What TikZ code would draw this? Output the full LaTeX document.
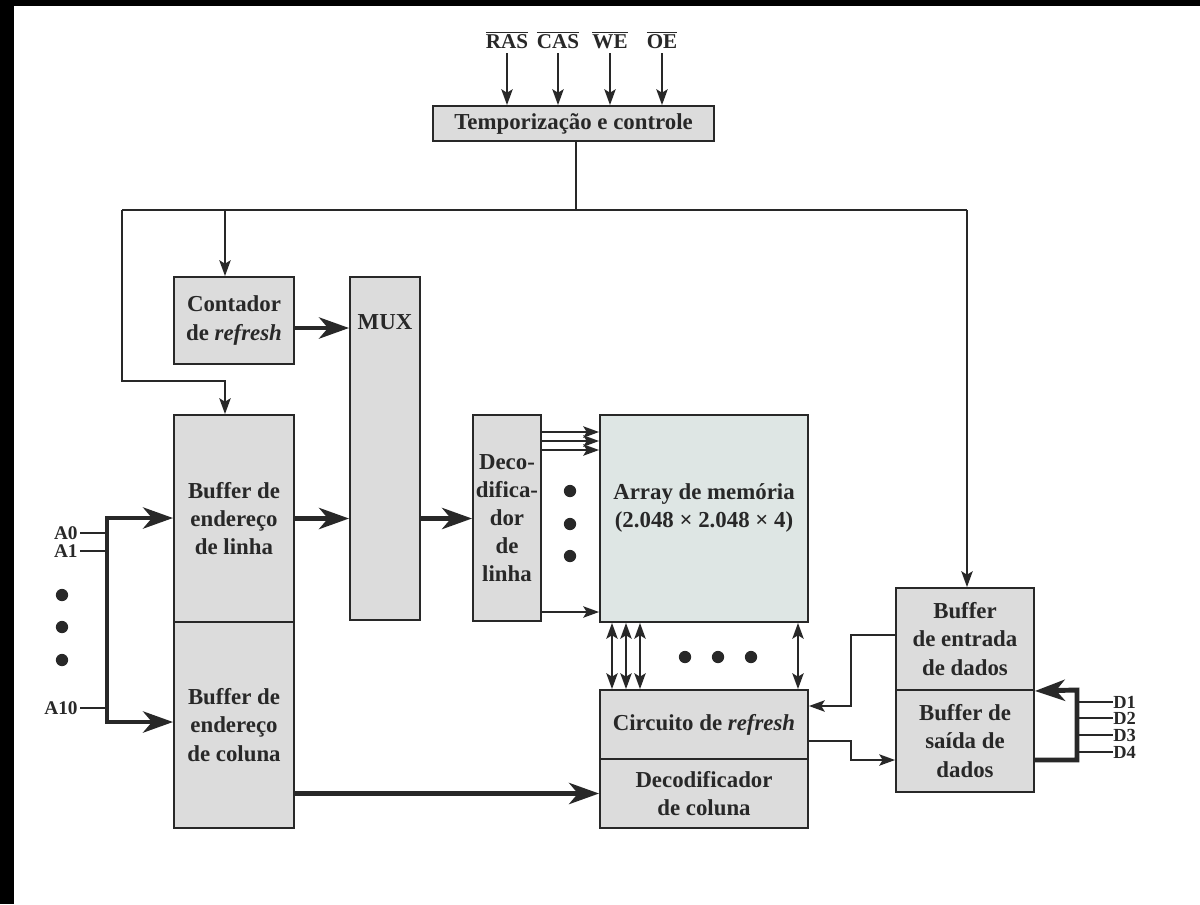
\documentclass[tikz,border=0pt]{standalone}
\usepackage{fontspec}
\setmainfont{Liberation Serif}
\usetikzlibrary{arrows.meta,calc}
\definecolor{boxgray}{RGB}{220,220,220}
\definecolor{arrfill}{RGB}{222,230,228}
\definecolor{ink}{RGB}{40,40,40}
\newcommand\un{0.02cm}
\begin{document}
\begin{tikzpicture}[x=0.02cm,y=-0.02cm,
  txt/.style={font=\fontsize{13}{16}\selectfont\bfseries,align=center,text=ink},
  box/.style={draw=ink,line width=1.1pt,fill=boxgray,inner sep=0pt,txt},
  wh/.style 2 args={minimum width=#1*\un,minimum height=#2*\un},
  thinl/.style={draw=ink,line width=1pt},
  tarr/.style={thinl,-{Stealth[length=9pt,width=6.5pt,inset=2pt]}},
  tbi/.style={thinl,{Stealth[length=9pt,width=6.5pt,inset=2pt]}-{Stealth[length=9pt,width=6.5pt,inset=2pt]}},
  thickl/.style={draw=ink,line width=2.8pt,line join=miter},
  bigarr/.style={thickl,-{Stealth[length=17pt,width=12pt,inset=5pt]}},
  dot/.style={circle,fill=ink,inner sep=0pt,minimum size=7pt},
  sig/.style={font=\fontsize{12}{12}\selectfont\bfseries,text=ink,inner sep=1pt},
  asig/.style={font=\fontsize{11}{11}\selectfont\bfseries,text=ink,inner sep=0pt},
  dsig/.style={font=\fontsize{10.5}{10.5}\selectfont\bfseries,text=ink,inner sep=0pt}
]
\useasboundingbox (0,0) rectangle (1200,904);
\fill[white] (0,0) rectangle (1200,904);
\fill[black] (0,0) rectangle (1200,6);
\fill[black] (0,0) rectangle (14,904);

% boxes
\node[box,wh={281}{35}] (ctrl) at (573.5,123.5) {Temporização e controle};
\node[box,wh={120}{87}] (cont) at (234,320.5) {Contador\\de \textit{refresh}};
\node[box,wh={70}{343}] (mux) at (385,448.5) {};
\node[txt] (muxl) at (385,322) {MUX};
\node[box,wh={120}{207}] (buflin) at (234,518.5) {Buffer de\\endereço\\de linha};
\node[box,wh={120}{206}] (bufcol) at (234,725) {Buffer de\\endereço\\de coluna};
\node[box,wh={68}{206}] (declin) at (507,518) {Deco-\\difica-\\dor\\de\\linha};
\node[box,fill=arrfill,wh={208}{207}] (arr) at (704,518.5) {};
\node[txt] (arrl) at (704,508) {Array de memória\\(2.048 × 2.048 × 4)};
\node[box,wh={208}{69}] (cref) at (704,724.5) {Circuito de \textit{refresh}};
\node[box,wh={208}{69}] (deccol) at (704,793.5) {Decodificador\\de coluna};
\node[box,wh={138}{102}] (bufin) at (965,639) {Buffer\\de entrada\\de dados};
\node[box,wh={138}{102}] (bufout) at (965,741) {Buffer de\\saída de\\dados};

% control signals
\foreach \n/\x/\t in {ras/507/RAS,cas/558/CAS,we/610/WE,oe/662/OE}{
  \node[sig,inner sep=0pt] (\n) at (\x,40) {$\overline{\mbox{\t}}$};
  \coordinate (\n s) at (\x,53);
  \draw[tarr] (\n s) -- (\n s |- ctrl.north);
}

% control bus
\coordinate (J) at (576,210);
\coordinate (busL) at (122,210);
\coordinate (busR) at (967,210);
\coordinate (tapC) at (225,210);
\coordinate (bendL) at (122,381);
\draw[thinl] (ctrl.south -| J) -- (J);
\draw[thinl] (busL) -- (busR);
\draw[tarr] (busR) -- (busR |- bufin.north);
\draw[tarr] (tapC) -- (tapC |- cont.north);
\draw[tarr] (busL) -- (bendL) -| (tapC |- buflin.north);

% thick data paths
\coordinate (y328) at (0,328);
\draw[bigarr] (cont.east |- y328) -- (mux.west |- y328);
\draw[bigarr] (buflin.east) -- (mux.west |- buflin.east);
\draw[bigarr] (mux.east |- buflin.east) -- (declin.west |- buflin.east);
\draw[bigarr] (bufcol.east |- deccol.west) -- (deccol.west);

% address bus
\coordinate (aTop) at (107,518);
\coordinate (aBot) at (107,722);
\draw[thickl,{Stealth[length=17pt,width=12pt,inset=5pt]}-{Stealth[length=17pt,width=12pt,inset=5pt]}]
  (buflin.west |- aTop) -- (aTop) -- (aBot) -- (bufcol.west |- aBot);
\foreach \n/\y/\t in {a0/533/A0,a1/551/A1,a10/708/A10}{
  \node[asig,anchor=east] (\n) at (78,\y) {\t};
  \draw[thinl] (\n.east) ++(2,0) coordinate (\n e) (\n e) -- (aTop |- \n e);
}
\node[dot] (ad1) at (62,595) {};
\node[dot] (ad2) at (62,627) {};
\node[dot] (ad3) at (62,660) {};

% row decoder -> array
\foreach \y in {432,441,450,612}{
  \coordinate (r\y) at (0,\y);
  \draw[tarr] (declin.east |- r\y) -- (arr.west |- r\y);
}
\node[dot] (rd1) at (570,491) {};
\node[dot] (rd2) at (570,524) {};
\node[dot] (rd3) at (570,556) {};

% array <-> refresh circuit
\foreach \x in {612,626,640,798}{
  \coordinate (c\x) at (\x,0);
  \draw[tbi] (arr.south -| c\x) -- (cref.north -| c\x);
}
\node[dot] (cd1) at (685,657) {};
\node[dot] (cd2) at (718,657) {};
\node[dot] (cd3) at (751,657) {};

% data buffers <-> refresh circuit
\coordinate (e1) at (851,635);
\coordinate (e2) at (851,706);
\draw[tarr] (bufin.west |- e1) -- (e1) -- (e2) -- (cref.east |- e2);
\coordinate (o1) at (851,741);
\coordinate (o2) at (851,760);
\draw[tarr] (cref.east |- o1) -- (o1) -- (o2) -- (bufout.west |- o2);

% data bus
\coordinate (d1) at (1077,760);
\coordinate (d2) at (1077,690);
\draw[bigarr] (bufout.east |- d1) -- (d1) -- (d2) -- (bufin.south east);
\foreach \n/\y/\t in {dd1/702/D1,dd2/718/D2,dd3/735/D3,dd4/752/D4}{
  \node[dsig,anchor=west] (\n) at (1113,\y) {\t};
  \draw[thinl] (d2 |- \n.west) -- (\n.west);
}
\end{tikzpicture}
\end{document}
